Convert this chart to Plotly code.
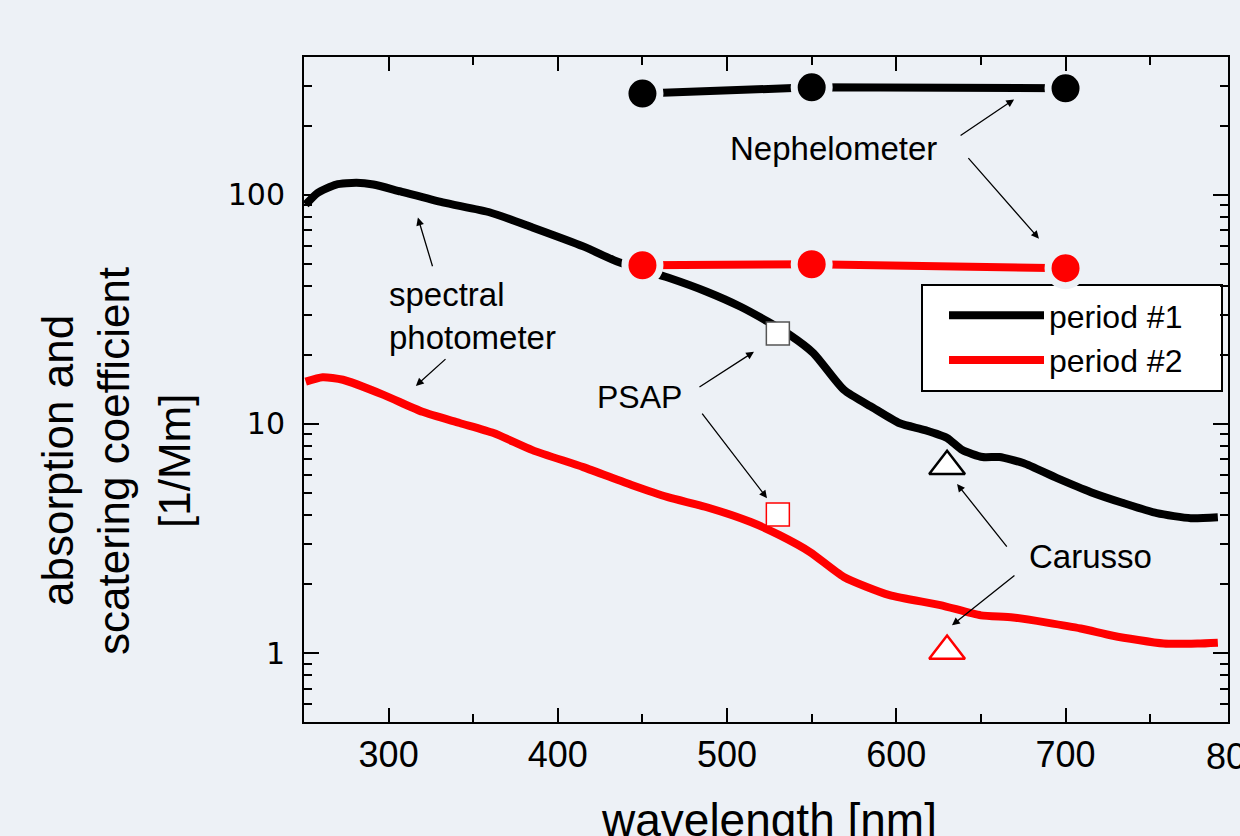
import math
import plotly.graph_objects as go

# ---------------- data ----------------
spec_wl_1 = [251, 258, 269, 281, 291, 307, 332, 360, 385, 415, 435, 450, 465, 488, 508, 524,
             537, 551, 569, 586, 602, 617, 630, 639, 651, 661, 675, 695, 715, 734, 754, 774, 790]
spec_val_1 = [90.7, 102, 111, 113, 111, 103.5, 92.7, 83.8, 72.1, 59.6, 51.2, 47.2, 43.6, 37.8, 32.5, 28.0,
              24.5, 20.4, 14.1, 11.8, 10.07, 9.4, 8.69, 7.69, 7.17, 7.17, 6.75, 5.80, 5.04, 4.52, 4.08, 3.88, 3.92]

spec_wl_2 = [251, 261, 273, 297, 320, 342, 362, 385, 415, 444, 465, 488, 514, 531, 549, 569,
             596, 626, 650, 669, 709, 728, 758, 778, 790]
spec_val_2 = [15.3, 16.0, 15.6, 13.4, 11.3, 10.1, 9.13, 7.69, 6.48, 5.40, 4.79, 4.33, 3.73, 3.27, 2.76, 2.15,
              1.79, 1.62, 1.46, 1.43, 1.28, 1.19, 1.10, 1.10, 1.11]

neph_wl = [450, 550, 700]
neph_val_1 = [277, 295, 292]
neph_val_2 = [49.3, 49.8, 47.9]

psap_wl = [530]
psap_val_1 = [24.8]
psap_val_2 = [4.03]

carusso_wl = [630]
carusso_val_1 = [6.54]
carusso_val_2 = [1.02]

series_names = ["period #1", "period #2"]
x_title = "wavelength [nm]"
y_title_lines = ["absorption and", "scatering coefficient", "[1/Mm]"]
y_tickvals = [1, 10, 100]
y_ticktext = ["1", "10", "100"]

# ---------------- style ----------------
BG = "#edf1f6"
BLACK = "#000000"
RED = "#ff0000"
FONT = "Liberation Sans, Arial, sans-serif"

# plot area in pixels
PL, PR, PT, PB = 304, 1228, 57, 722
PW, PH = PR - PL, PB - PT

def px_x(px):
    return (px - PL) / PW

def px_y(py):
    return (PB - py) / PH

fig = go.Figure()

fig.add_trace(go.Scatter(x=spec_wl_1, y=spec_val_1, mode="lines", name=series_names[0],
                         line=dict(color=BLACK, width=8, shape="spline", smoothing=0.6)))
fig.add_trace(go.Scatter(x=spec_wl_2, y=spec_val_2, mode="lines", name=series_names[1],
                         line=dict(color=RED, width=8, shape="spline", smoothing=0.6)))

for vals, col in [(neph_val_1, BLACK), (neph_val_2, RED)]:
    fig.add_trace(go.Scatter(x=neph_wl, y=vals, mode="lines+markers", showlegend=False,
                             line=dict(color=col, width=8),
                             marker=dict(color=col, size=35, line=dict(color=BG, width=7))))

fig.add_trace(go.Scatter(x=psap_wl, y=psap_val_1, mode="markers", showlegend=False,
                         marker=dict(symbol="square", size=23, color="white",
                                     line=dict(color="#555555", width=1.5))))
fig.add_trace(go.Scatter(x=psap_wl, y=psap_val_2, mode="markers", showlegend=False,
                         marker=dict(symbol="square", size=23, color="white",
                                     line=dict(color=RED, width=1.5))))

fig.add_trace(go.Scatter(x=carusso_wl, y=carusso_val_1, mode="markers", showlegend=False,
                         marker=dict(symbol="triangle-up", size=31, color="white",
                                     line=dict(color=BLACK, width=2.5))))
fig.add_trace(go.Scatter(x=carusso_wl, y=carusso_val_2, mode="markers", showlegend=False,
                         marker=dict(symbol="triangle-up", size=31, color="white",
                                     line=dict(color=RED, width=2.5))))

# ---------------- annotations ----------------
L = math.log10
ann = []

def label(text, x, y, xanchor="center", align="center", size=33):
    ann.append(dict(text=text, x=x, y=L(y), xref="x", yref="y", showarrow=False,
                    xanchor=xanchor, align=align, font=dict(family=FONT, size=size, color=BLACK)))

def arrow(x_head, y_head, x_tail, y_tail):
    ann.append(dict(text="", x=x_head, y=L(y_head), xref="x", yref="y",
                    ax=x_tail, ay=L(y_tail), axref="x", ayref="y",
                    showarrow=True, arrowhead=2, arrowsize=1.2, arrowwidth=1.3,
                    arrowcolor=BLACK, standoff=0, startstandoff=0))

label("Nephelometer", 562.6, 10 ** 2.202)
arrow(669.6, 10 ** 2.417, 637.1, 10 ** 2.255)
arrow(684.3, 10 ** 1.809, 641.8, 10 ** 2.167)

label("spectral<br>photometer", 299, 10 ** 1.472, xanchor="left", align="left")
arrow(317.3, 10 ** 1.901, 326.2, 10 ** 1.682)
arrow(316.1, 10 ** 1.166, 334.5, 10 ** 1.289)

label("PSAP", 448.5, 10 ** 1.118, size=32)
arrow(515.9, 10 ** 1.315, 482.8, 10 ** 1.157)
arrow(523.6, 10 ** 0.676, 484.6, 10 ** 1.052)

label("Carusso", 714.5, 10 ** 0.423)
arrow(635.9, 10 ** 0.738, 666.0, 10 ** 0.458)
arrow(632.9, 10 ** 0.121, 670.7, 10 ** 0.344)

# tick label at 800, just beyond the axis end (cut by the image edge, as in the original)
ann.append(dict(text="800", x=px_x(1236), y=0, xref="paper", yref="paper",
                xanchor="center", yanchor="top",
                yshift=-12, showarrow=False, font=dict(family=FONT, size=36, color=BLACK)))

# x title
ann.append(dict(text=x_title, x=px_x(768.5), y=0, xref="paper", yref="paper",
                xanchor="center", yanchor="top", yshift=-70, showarrow=False,
                font=dict(family=FONT, size=46, color=BLACK)))

# y title (three lines)
for txt, px in zip(y_title_lines, [58, 114, 175]):
    ann.append(dict(text=txt, x=px_x(px), y=px_y(461), xref="paper", yref="paper",
                    textangle=-90, showarrow=False, xanchor="center", yanchor="middle",
                    font=dict(family=FONT, size=44, color=BLACK)))

# legend frame
shapes = [dict(type="rect", xref="paper", yref="paper",
               x0=px_x(922), x1=px_x(1222), y0=px_y(391), y1=px_y(285),
               fillcolor="white", line=dict(color=BLACK, width=2), layer="below")]

fig.update_layout(
    width=1240, height=836,
    margin=dict(l=PL, r=1240 - PR, t=PT, b=836 - PB, autoexpand=False),
    paper_bgcolor=BG, plot_bgcolor=BG,
    font=dict(family=FONT, color=BLACK),
    annotations=ann,
    shapes=shapes,
    showlegend=True,
    legend=dict(x=px_x(944), y=px_y(288), xanchor="left", yanchor="top",
                bgcolor="rgba(0,0,0,0)", borderwidth=0,
                font=dict(family=FONT, size=32, color=BLACK), itemwidth=95,
                tracegroupgap=0),
)

fig.update_xaxes(
    range=[250, 796], showgrid=False, zeroline=False,
    showline=True, linecolor=BLACK, linewidth=2, mirror="allticks",
    ticks="inside", ticklen=14, tickwidth=2, tickcolor=BLACK,
    tick0=0, dtick=100,
    minor=dict(ticks="inside", ticklen=8, tickwidth=2, tickcolor=BLACK, dtick=50, showgrid=False),
    tickfont=dict(family=FONT, size=36, color=BLACK),
    automargin=False,
)

fig.update_yaxes(
    type="log", range=[L(0.5), L(400)], showgrid=False, zeroline=False,
    showline=True, linecolor=BLACK, linewidth=2, mirror="allticks",
    ticks="inside", ticklen=15, tickwidth=2, tickcolor=BLACK,
    tickvals=y_tickvals, ticktext=y_ticktext,
    minor=dict(ticks="inside", ticklen=8, tickwidth=2, tickcolor=BLACK, dtick="D1", showgrid=False),
    tickfont=dict(family="DejaVu Sans, sans-serif", size=30, color=BLACK),
    ticklabelstandoff=11,
    automargin=False,
)

fig.write_html("out.html", config={"displayModeBar": False},
               post_script="document.body.style.margin='0px';document.body.style.overflow='hidden';")
